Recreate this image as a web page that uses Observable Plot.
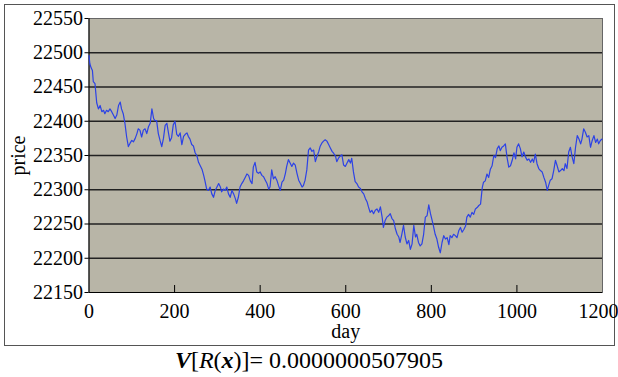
<!DOCTYPE html>
<html>
<head>
<meta charset="utf-8">
<script src="https://cdn.jsdelivr.net/npm/d3@7"></script>
<script src="https://cdn.jsdelivr.net/npm/@observablehq/plot@0.6"></script>
<style>
  body { margin: 0; background: #fff; }
  #wrap { position: relative; width: 618px; height: 377px; overflow: hidden; }
  #box { position: absolute; left: 4px; top: 4px; width: 609px; height: 340px; border: 1px solid #555; }
  #chart { position: absolute; left: 0; top: 0; }
  #chart svg text { font-family: "Liberation Serif", "Times New Roman", serif; font-variant-numeric: normal; }
  #cap { position: absolute; left: 0; top: 347px; width: 618px; text-align: center;
         font-family: "Liberation Serif", "Times New Roman", serif; font-size: 24px; color: #000; }
</style>
</head>
<body>
<div id="wrap">
  <div id="box"></div>
  <div id="chart"></div>
  <div id="cap"><b><i>V</i></b>[<i>R</i>(<b><i>x</i></b>)]= 0.0000000507905</div>
</div>
<script>
// daily price path
const days = [
  0,2,5,8,10,14,18,22,26,30,34,37,41,45,49,53,57,61,65,69,
  73,76,80,84,88,92,96,100,104,108,112,115,119,123,127,131,135,139,143,147,
  151,154,158,162,166,170,174,178,182,186,
  189,193,197,201,205,209,213,217,221,225,229,232,236,240,244,248,252,256,260,264,
  268,271,275,279,283,287,291,295,299,303,307,310,314,318,322,326,330,334,338,342,
  345,349,353,357,361,365,369,373,377,381,384,388,
  392,396,400,404,408,412,416,420,423,427,431,435,439,443,447,451,455,459,462,466,
  470,474,478,482,486,490,494,498,501,505,509,513,517,521,525,529,533,537,540,544,
  548,552,556,560,564,568,572,576,579,583,
  587,591,595,599,603,607,611,614,618,622,626,630,634,638,642,646,650,653,657,661,
  665,669,673,677,681,685,688,692,696,700,704,708,712,716,720,724,727,731,735,739,
  743,747,751,755,759,763,766,770,774,778,782,
  786,790,794,798,802,805,809,813,817,821,825,829,833,837,841,844,848,852,856,860,
  864,868,872,876,880,883,887,891,895,899,903,907,911,915,919,922,926,930,934,938,
  942,946,950,954,958,961,965,969,973,977,981,
  985,989,993,997,1000,1004,1008,1012,1016,1020,1024,1028,1032,1036,1039,1043,1047,1051,1055,1059,
  1063,1067,1071,1074,1078,1082,1086,1090,1094,1098,1102,1106,1110,1113,1117,1121,1125,1129,1133,1137,
  1141,1145,1149,1152,1156,1160,1164,1168,1172,1176,1180,1184,1188,1191,1195,1199
];
const prices = [
  22496,22484,22478,22474,22458,22455,22427,22418,22423,22414,22416,22411,22416,22414,22418,22414,22409,22404,22409,22423,
  22428,22418,22411,22397,22377,22363,22368,22372,22370,22375,22382,22389,22387,22377,22387,22389,22382,22392,22397,22418,
  22404,22401,22401,22382,22372,22363,22375,22394,22397,22382,
  22371,22376,22395,22400,22381,22378,22383,22366,22378,22381,22383,22378,22374,22366,22364,22354,22350,22340,22335,22330,
  22321,22313,22301,22299,22304,22294,22289,22299,22304,22309,22304,22297,22301,22299,22304,22294,22289,22299,22294,22287,
  22280,22289,22304,22309,22313,22318,22323,22321,22313,22309,22333,22340,
  22326,22324,22326,22321,22319,22314,22309,22301,22304,22329,22316,22319,22314,22306,22299,22311,22314,22324,22334,22344,
  22339,22334,22339,22336,22324,22314,22309,22304,22306,22314,22329,22358,22361,22356,22358,22341,22349,22356,22363,22368,
  22371,22373,22371,22366,22361,22356,22353,22349,22341,22346,
  22349,22351,22336,22334,22339,22344,22339,22346,22326,22312,22309,22304,22302,22297,22294,22287,22282,22275,22267,22270,
  22265,22270,22272,22267,22275,22260,22245,22255,22260,22262,22265,22258,22255,22243,22235,22231,22223,22235,22248,22231,
  22221,22226,22213,22221,22248,22231,22235,22223,22218,22221,22235,
  22260,22262,22278,22265,22255,22247,22235,22228,22216,22208,22223,22233,22228,22230,22220,22233,22230,22235,22233,22230,
  22240,22245,22238,22242,22247,22260,22264,22260,22267,22264,22272,22274,22277,22279,22303,22311,22313,22323,22318,22330,
  22335,22350,22347,22360,22364,22357,22362,22364,22367,22347,22333,
  22335,22343,22354,22345,22362,22367,22360,22348,22355,22348,22343,22345,22340,22345,22340,22352,22338,22331,22328,22326,
  22318,22311,22299,22306,22314,22316,22328,22343,22335,22326,22328,22331,22328,22338,22331,22355,22362,22348,22338,22362,
  22379,22374,22367,22374,22389,22384,22377,22379,22362,22372,22379,22369,22374,22367,22372,22374
];
const yTicks = [22150, 22200, 22250, 22300, 22350, 22400, 22450, 22500, 22550];
const xTicks = [0, 200, 400, 600, 800, 1000, 1200];

const series = days.map((d, i) => ({day: d, price: prices[i]}));
const fmt = d3.format("d");
const serif = "'Liberation Serif', 'Times New Roman', serif";

const chart = Plot.plot({
  width: 618,
  height: 345,
  marginLeft: 88.5,
  marginRight: 16,
  marginTop: 18,
  marginBottom: 53,
  style: {fontFamily: serif, fontSize: "20px", color: "#000", background: "transparent"},
  x: {domain: [0, 1200]},
  y: {domain: [22150, 22550]},
  marks: [
    Plot.frame({fill: "#b8b5a7", stroke: "#666"}),
    Plot.ruleY(yTicks.slice(1, -1), {stroke: "#222", strokeWidth: 1.3}),
    Plot.ruleX(xTicks.slice(1, -1), {stroke: "#000", insetTop: 267}),
    Plot.ruleX([0], {stroke: "#000"}),
    Plot.ruleY([22150], {stroke: "#000"}),
    Plot.axisY(yTicks, {tickSize: 4, tickPadding: 2, tickFormat: fmt, fontFamily: serif, fontVariant: "normal",
      label: "price", labelAnchor: "center", labelOffset: 78, labelArrow: "none"}),
    Plot.axisX(xTicks.slice(0, -1), {tickSize: 0, tickPadding: 11, tickFormat: fmt, fontFamily: serif, fontVariant: "normal",
      label: "day", labelAnchor: "center", labelOffset: 45, labelArrow: "none"}),
    // last label nudged so it stays inside the page
    Plot.axisX(xTicks.slice(-1), {tickSize: 0, tickPadding: 11, tickFormat: fmt, fontFamily: serif, fontVariant: "normal", label: null, dx: -4}),
    Plot.line(series, {x: "day", y: "price", stroke: "#2c42e6", strokeWidth: 1.2})
  ]
});
document.getElementById("chart").appendChild(chart);
</script>
</body>
</html>
